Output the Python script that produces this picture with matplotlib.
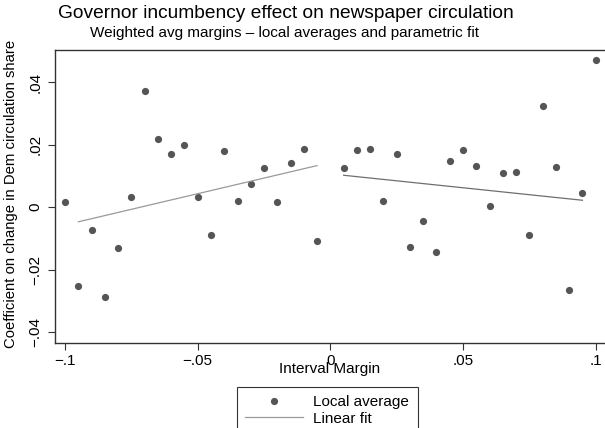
# Governor incumbency effect on newspaper circulation - RD style scatter with linear fits

import numpy as np
import matplotlib.pyplot as plt

plt.rcParams['font.family'] = ['Liberation Sans', 'DejaVu Sans']

# Local averages (bins of the interval margin)
margin = [-0.100, -0.095, -0.090, -0.085, -0.080, -0.075, -0.070, -0.065, -0.060, -0.055,
          -0.050, -0.045, -0.040, -0.035, -0.030, -0.025, -0.020, -0.015, -0.010, -0.005,
          0.005, 0.010, 0.015, 0.020, 0.025, 0.030, 0.035, 0.040, 0.045, 0.050,
          0.055, 0.060, 0.065, 0.070, 0.075, 0.080, 0.085, 0.090, 0.095, 0.100]
coef = [0.0016, -0.0254, -0.0073, -0.0288, -0.0131, 0.0033, 0.0373, 0.0217, 0.0171, 0.0199,
        0.0033, -0.0089, 0.0180, 0.0020, 0.0074, 0.0125, 0.0017, 0.0142, 0.0185, -0.0109,
        0.0125, 0.0183, 0.0186, 0.0020, 0.0170, -0.0128, -0.0044, -0.0145, 0.0148, 0.0183,
        0.0131, 0.0005, 0.0109, 0.0111, -0.0088, 0.0323, 0.0130, -0.0266, 0.0045, 0.0470]

# Linear fit endpoints on each side of the cutoff
fit_left_x = [-0.095, -0.005]
fit_left_y = [-0.0047, 0.0133]
fit_right_x = [0.005, 0.095]
fit_right_y = [0.0102, 0.0022]

xticks = [-0.1, -0.05, 0, 0.05, 0.1]
xtick_labels = ['\u2212.1', '\u2212.05', '0', '.05', '.1']
yticks = [-0.04, -0.02, 0, 0.02, 0.04]
ytick_labels = ['\u2212.04', '\u2212.02', '0', '.02', '.04']

W, H = 605, 428
fig = plt.figure(figsize=(W / 100, H / 100), dpi=100)
ax = fig.add_axes([55 / W, (H - 342.7) / H, 551 / W, (342.7 - 50) / H])

ax.plot(margin, coef, 'o', ms=5.2, color='#555555', mec='none', label='Local average')
ax.plot(fit_left_x, fit_left_y, color='#9a9a9a', lw=0.9, label='Linear fit')
ax.plot(fit_right_x, fit_right_y, color='#6e6e6e', lw=0.9)

ax.set_xlim(-0.1038, 0.1039)
ax.set_ylim(-0.0434, 0.0503)

ax.set_xticks(xticks)
ax.set_xticklabels(xtick_labels)
ax.set_yticks(yticks)
ax.set_yticklabels(ytick_labels, rotation=90, va='center')
ax.tick_params(axis='both', direction='out', length=5, width=0.8, color='#333333',
               labelsize=11, labelcolor='black')
ax.tick_params(axis='x', pad=3)
ax.tick_params(axis='y', pad=4)

for side in ['left', 'bottom', 'top']:
    ax.spines[side].set_color('#333333')
    ax.spines[side].set_linewidth(1.0)
ax.spines['right'].set_visible(False)

fig.text(286 / W, 1 - 14 / H, 'Governor incumbency effect on newspaper circulation',
         ha='center', va='center', fontsize=13.8)
fig.text(284 / W, 1 - 33 / H, 'Weighted avg margins \u2013 local averages and parametric fit',
         ha='center', va='center', fontsize=11)
fig.text(330 / W, 1 - 369 / H, 'Interval Margin', ha='center', va='center', fontsize=11)
fig.text(11 / W, 1 - 194 / H, 'Coefficient on change in Dem circulation share',
         ha='center', va='center', rotation=90, fontsize=10.7)

leg = fig.legend(loc='upper left', bbox_to_anchor=(237 / W, 1 - 387 / H),
                 fontsize=11, handlelength=3.8, handletextpad=0.65, labelspacing=0.15,
                 borderpad=0.55, borderaxespad=0, fancybox=False, framealpha=1)
leg.get_frame().set_edgecolor('#333333')
leg.get_frame().set_linewidth(0.8)

fig.savefig('out.png', dpi=100)
